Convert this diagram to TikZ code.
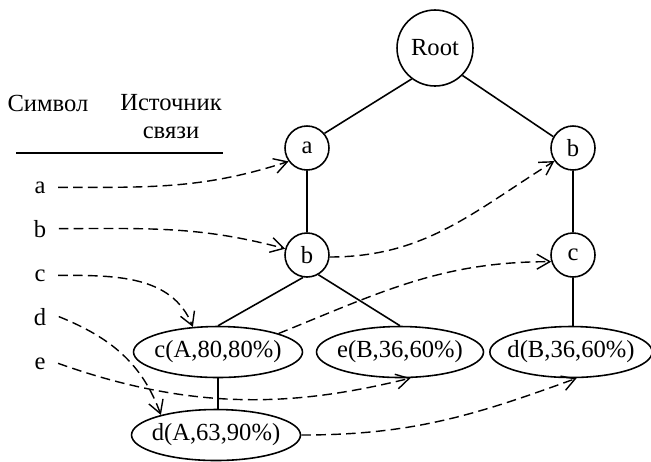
\documentclass[tikz,border=0pt]{standalone}
\usepackage{fontspec}
\setmainfont{Liberation Serif}
\usetikzlibrary{arrows.meta,shapes.geometric}

\begin{document}
\begin{tikzpicture}[x=0.02cm,y=0.02cm,
     every node/.style={font=\fontsize{14}{16}\selectfont},
     vc/.style={circle,draw,line width=0.9pt,minimum size=0.88cm,inner sep=0pt},
     ve/.style={ellipse,draw,line width=0.9pt,minimum width=3.38cm,minimum height=1.02cm,inner xsep=-3.5pt,inner ysep=0pt},
     lbl/.style={anchor=base,inner xsep=7pt},
     tr/.style={line width=0.9pt},
     lnk/.style={line width=0.8pt,dash pattern=on 5.5pt off 3pt,-{Straight Barb[length=2.6mm,width=3mm]}}]
   \useasboundingbox (0,0) rectangle (651,-461);
   % tree
   \node[vc,minimum size=1.52cm] (root) at (435,-48) {Root};
   \node[vc] (a) at (307,-148) {a};
   \node[vc] (b) at (307,-255) {b};
   \node[vc] (b2) at (573,-148) {b};
   \node[vc] (c2) at (573,-255) {c};
   \node[ve] (cA) at (218,-352) {c(A,80,80\%)};
   \node[ve,minimum width=3.34cm] (eB) at (400,-352) {e(B,36,60\%)};
   \node[ve,minimum width=3.18cm] (dB) at (571,-352) {d(B,36,60\%)};
   \node[ve] (dA) at (216,-435) {d(A,63,90\%)};
   \draw[tr] (root.233) -- (a.40);
   \draw[tr] (root.315) -- (b2.150);
   \draw[tr] (a) -- (b);
   \draw[tr] (b.-100) -- (cA.north);
   \draw[tr] (b.-60) -- (eB.north);
   \draw[tr] (cA.south) -- (cA.south |- dA.north);
   \draw[tr] (b2) -- (c2);
   \draw[tr] (c2) -- (c2 |- dB.north);
   % table of links
   \node (hs) at (48,-103) {Символ};
   \node[align=center] (hi) at (171,-117) {Источник\\связи};
   \draw[tr] (16,-153) -- (223,-153);
   \foreach \s/\y in {a/193,b/237,c/281,d/325,e/369}
     \node[lbl] (l\s) at (40,-\y) {\s};
   % node links
   \draw[lnk] (la.east) to[out=0,in=198] (a.216);
   \draw[lnk] (lb.east) to[out=0,in=165] (b.164);
   \draw[lnk] (lc.east) to[out=0,in=112] (cA.135);
   \draw[lnk] (ld.east) to[out=-22,in=110] (dA.160);
   \draw[lnk] (le.east) .. controls +(140,-50) and +(-110,-27) .. (eB.-68);
   \draw[lnk] (cA.17) to[out=22,in=180] (c2.197);
   \draw[lnk] (b.-5) to[out=0,in=212] (b2.215);
   \draw[lnk] (dA.east) to[out=0,in=200] (dB.-78);
\end{tikzpicture}
\end{document}
